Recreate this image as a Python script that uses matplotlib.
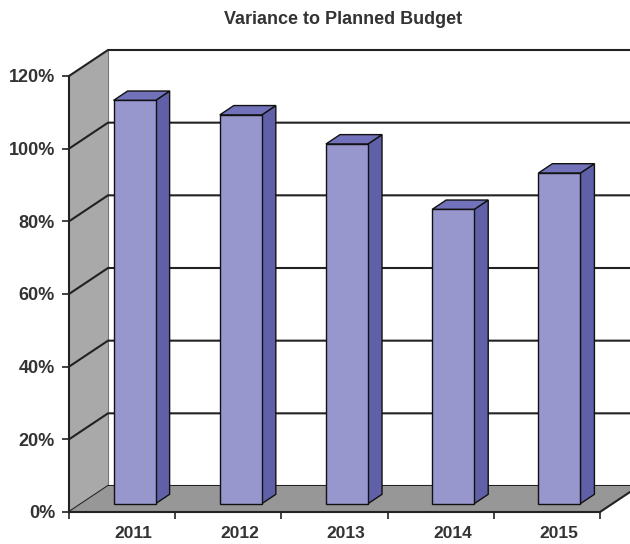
import matplotlib
matplotlib.use("Agg")
import matplotlib.pyplot as plt
from matplotlib.patches import Polygon

categories = ["2011", "2012", "2013", "2014", "2015"]
values = [111, 107, 99, 81, 91]
y_ticks = [0, 20, 40, 60, 80, 100, 120]
y_tick_labels = ["0%", "20%", "40%", "60%", "80%", "100%", "120%"]
title = "Variance to Planned Budget"

plt.rcParams['font.family'] = ['Liberation Sans', 'DejaVu Sans']

fig = plt.figure(figsize=(6.3, 5.44), dpi=100)
ax = fig.add_axes([69/630, 1 - 512/544, 531/630, 436/544])
ax.set_xlim(-0.5, len(categories) - 0.5)
ax.set_ylim(0, 120)

# depth offset (in data units)
DX = 39 / 106.2
DY = 26 / 3.633
x0, x1 = -0.5, len(categories) - 0.5
ymax = 120

wall_col = "#a9a9a9"
floor_col = "#979797"
line_col = "#222222"

# left wall
ax.add_patch(Polygon([(x0, 0), (x0, ymax), (x0 + DX, ymax + DY), (x0 + DX, DY)],
                     closed=True, facecolor=wall_col, edgecolor="none", zorder=1, clip_on=False))
# back wall edge
ax.plot([x0 + DX, x0 + DX], [DY, ymax + DY], color="#777777", lw=0.8, zorder=1.5, clip_on=False)
# gridlines
for g in y_ticks:
    ax.plot([x0, x0 + DX, x1 + DX + 1], [g, g + DY, g + DY], color=line_col, lw=1.5,
            zorder=2, clip_on=False, solid_joinstyle="miter")
# floor
ax.add_patch(Polygon([(x0, 0), (x1, 0), (x1 + DX, DY), (x0 + DX, DY)],
                     closed=True, facecolor=floor_col, edgecolor="none", zorder=3, clip_on=False))
ax.plot([x1, x1 + DX], [0, DY], color=line_col, lw=1.5, zorder=3.5, clip_on=False)

# bars
f0, f1 = 0.32, 0.68
bw = 42 / 106.2
front_col = "#9797cd"
side_col = "#6060a8"
top_col = "#7272bb"
xs = [i + f0 * DX for i in range(len(categories))]
base = f0 * DY
ax.bar(xs, values, width=bw, bottom=base, color=front_col, edgecolor="#111111",
       linewidth=1.0, zorder=5)
ddx = (f1 - f0) * DX
ddy = (f1 - f0) * DY
for xc, v in zip(xs, values):
    l, r = xc - bw / 2, xc + bw / 2
    top = base + v
    ax.add_patch(Polygon([(r, base), (r, top), (r + ddx, top + ddy), (r + ddx, base + ddy)],
                         closed=True, facecolor=side_col, edgecolor="#111111", lw=1.0, zorder=4.5))
    ax.add_patch(Polygon([(l, top), (r, top), (r + ddx, top + ddy), (l + ddx, top + ddy)],
                         closed=True, facecolor=top_col, edgecolor="#111111", lw=1.0, zorder=4.5))

# axes styling
for s in ["top", "right"]:
    ax.spines[s].set_visible(False)
for s in ["left", "bottom"]:
    ax.spines[s].set_color(line_col)
    ax.spines[s].set_linewidth(1.5)
    ax.spines[s].set_zorder(6)
ax.patch.set_alpha(0)

ax.set_yticks(y_ticks)
ax.set_yticklabels(y_tick_labels, fontsize=13, fontweight="bold", color="#333333")
ax.tick_params(axis="y", length=5, width=1.2, color=line_col, pad=5)

ax.set_xticks([i - 0.5 for i in range(len(categories) + 1)])
ax.set_xticklabels([""] * (len(categories) + 1))
ax.tick_params(axis="x", which="major", length=5, width=1.2, color=line_col)
ax.set_xticks([i + 0.11 for i in range(len(categories))], minor=True)
ax.set_xticklabels(categories, minor=True, fontsize=12.5, fontweight="bold", color="#333333")
ax.tick_params(axis="x", which="minor", length=0, pad=10)

fig.text(343/630, 1 - 20/544, title, ha="center", va="center", fontsize=13,
         fontweight="bold", color="#333333")

fig.savefig("out.png", dpi=100)
